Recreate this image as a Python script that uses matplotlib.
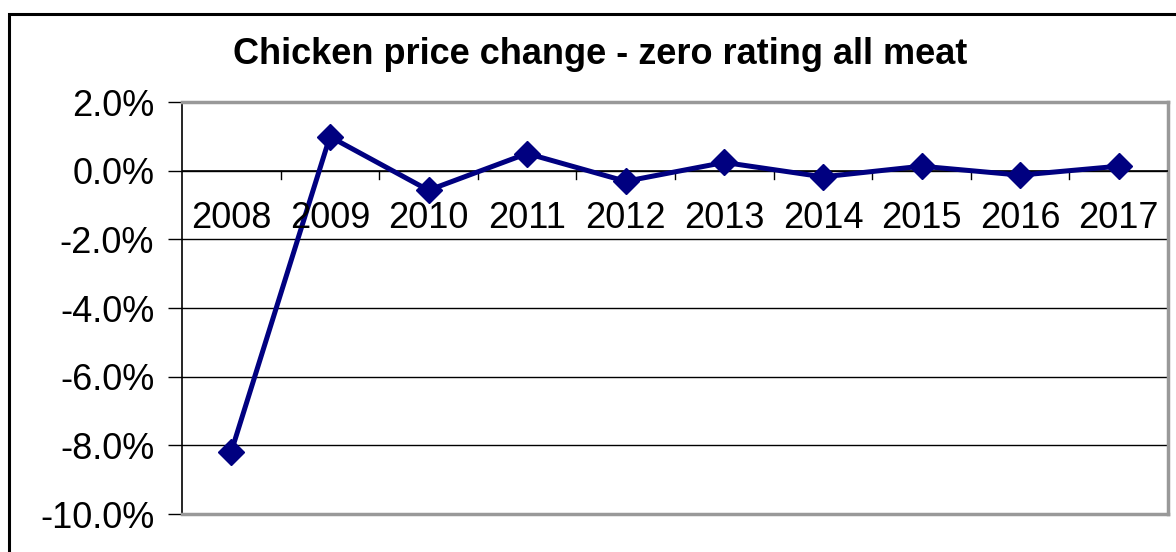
import matplotlib.pyplot as plt
from matplotlib.patches import Rectangle
from matplotlib.ticker import FuncFormatter

years = ['2008', '2009', '2010', '2011', '2012', '2013', '2014', '2015', '2016', '2017']
change = [-8.18, 0.99, -0.57, 0.50, -0.31, 0.24, -0.18, 0.13, -0.13, 0.13]

plt.rcParams['font.family'] = ['Liberation Sans', 'DejaVu Sans']

W, H = 1176, 552
fig = plt.figure(figsize=(W / 100, H / 100), dpi=100)
ax = fig.add_axes([182 / W, 1 - 514 / H, (1168 - 182) / W, (514 - 102) / H])

x = list(range(len(years)))
ax.plot(x, change, color='#000080', lw=3.6, marker='D', ms=13.5, zorder=5, clip_on=False)

ax.set_xlim(-0.5, len(years) - 0.5)
ax.set_ylim(-10, 2)
ax.set_yticks([-10, -8, -6, -4, -2, 0, 2])
ax.yaxis.set_major_formatter(FuncFormatter(lambda v, p: '%.1f%%' % v))
ax.yaxis.grid(True, color='black', lw=1)
ax.set_axisbelow(True)
ax.tick_params(axis='y', labelsize=26, length=10, width=1, color='black', pad=10)

# category axis crossing at zero
ax.set_xticks([])
ax.axhline(0, color='black', lw=1.2, zorder=3)
for i in range(1, len(years)):
    ax.plot([i - 0.5, i - 0.5], [0, -0.25], color='black', lw=1, zorder=3)
for i, yr in enumerate(years):
    ax.text(i, -1.4, yr, ha='center', va='center', fontsize=26, zorder=6)

for s in ['top', 'right', 'bottom']:
    ax.spines[s].set_color('#999999')
    ax.spines[s].set_linewidth(2.5)
ax.spines['left'].set_color('black')
ax.spines['left'].set_linewidth(1.2)

fig.text(600 / W, 1 - 55 / H, 'Chicken price change - zero rating all meat',
         ha='center', va='center', fontsize=26, fontweight='bold')

# outer chart frame (runs past the bottom and right of the image)
fig.patches.append(Rectangle((9 / W, -0.2), 1.2, 1 - 14 / H + 0.2, transform=fig.transFigure,
                             fill=False, edgecolor='black', lw=2.2))

fig.savefig('out.png', dpi=100)
